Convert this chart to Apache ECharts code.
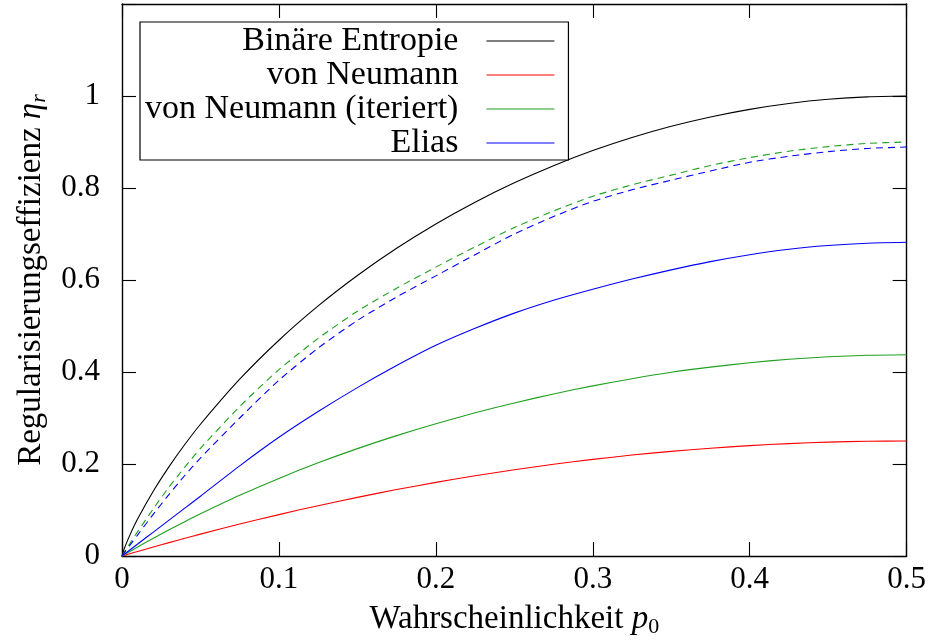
<!DOCTYPE html>
<html><head><meta charset="utf-8">
<script src="https://cdn.jsdelivr.net/npm/echarts@6/dist/echarts.min.js"></script>
<style>html,body{margin:0;padding:0;background:#fff}#c{width:929px;height:643px}</style>
</head><body><div id="c"></div>
<script>
// Probability p0 (shared x grid)
const pValues = [0, 0.001, 0.0025, 0.005, 0.01, 0.02, 0.03, 0.04, 0.05, 0.075, 0.1, 0.125, 0.15, 0.175, 0.2, 0.225, 0.25, 0.275, 0.3, 0.325, 0.35, 0.375, 0.4, 0.425, 0.45, 0.475, 0.5];
// Binäre Entropie (black)
const entropy = [0, 0.0114, 0.0252, 0.0454, 0.0808, 0.1414, 0.1944, 0.2423, 0.2864, 0.3843, 0.4690, 0.5436, 0.6098, 0.6690, 0.7219, 0.7692, 0.8113, 0.8485, 0.8813, 0.9097, 0.9341, 0.9544, 0.9710, 0.9837, 0.9928, 0.9982, 1.0];
// von Neumann (red)
const vonNeumann = [0, 0.001, 0.0025, 0.005, 0.0099, 0.0196, 0.0291, 0.0384, 0.0475, 0.0694, 0.09, 0.1094, 0.1275, 0.1444, 0.16, 0.1744, 0.1875, 0.1994, 0.21, 0.2194, 0.2275, 0.2344, 0.24, 0.2444, 0.2475, 0.2494, 0.25];
// von Neumann iteriert, solid (green)
const iterSolid = [0, 0.002, 0.005, 0.0099, 0.0197, 0.0386, 0.0570, 0.0747, 0.0917, 0.1319, 0.1687, 0.2025, 0.2334, 0.2617, 0.2876, 0.3113, 0.3328, 0.3523, 0.3698, 0.3854, 0.3995, 0.4106, 0.4202, 0.4277, 0.4331, 0.4364, 0.4375];
// von Neumann iteriert, dashed (green)
const iterDashed = [0, 0.0056, 0.0138, 0.027, 0.053, 0.103, 0.150, 0.193, 0.234, 0.325, 0.405, 0.473, 0.532, 0.582, 0.628, 0.672, 0.714, 0.750, 0.782, 0.807, 0.828, 0.849, 0.866, 0.880, 0.890, 0.897, 0.900];
// Elias, solid (blue)
const eliasSolid = [0, 0.0026, 0.0065, 0.013, 0.026, 0.052, 0.078, 0.104, 0.130, 0.196, 0.258, 0.314, 0.366, 0.414, 0.458, 0.495, 0.528, 0.556, 0.580, 0.602, 0.622, 0.640, 0.655, 0.667, 0.675, 0.680, 0.682];
// Elias, dashed (blue)
const eliasDashed = [0, 0.0047, 0.0117, 0.023, 0.046, 0.091, 0.134, 0.175, 0.213, 0.300, 0.382, 0.452, 0.512, 0.563, 0.609, 0.655, 0.700, 0.738, 0.771, 0.796, 0.817, 0.837, 0.856, 0.869, 0.879, 0.886, 0.889];

const legendNames = ['Binäre Entropie', 'von Neumann', 'von Neumann (iteriert)', 'Elias'];
const yTickLabels = {0: '0', 0.2: '0.2', 0.4: '0.4', 0.6: '0.6', 0.8: '0.8', 1: '1'};

const FONT = 'Liberation Serif';
const BLACK = '#000000', RED = '#ff0000', GREEN = '#1fa01f', BLUE = '#0000ff';

function pairs(ys) { return pValues.map((p, i) => [p, ys[i]]); }

function lineSeries(name, ys, color, dashed) {
  return {
    name: name, type: 'line', data: pairs(ys),
    symbol: 'none', showSymbol: false, smooth: 0.25,
    lineStyle: {color: color, width: 1.1, type: dashed ? [7, 5] : 'solid'},
    itemStyle: {color: color},
    emphasis: {disabled: true}, silent: true, clip: true
  };
}

const frameLine = {show: true, onZero: false, lineStyle: {color: BLACK, width: 1.4}};
const tick = {show: true, inside: true, length: 14, lineStyle: {color: BLACK, width: 1.1}};

const chart = echarts.init(document.getElementById('c'));
chart.setOption({
  animation: false,
  backgroundColor: '#ffffff',
  grid: {left: 122, right: 22, top: 4, bottom: 75},
  xAxis: [
    {type: 'value', min: 0, max: 0.5, interval: 0.1, position: 'bottom',
     axisLine: frameLine, axisTick: tick, splitLine: {show: false},
     axisLabel: {color: BLACK, fontFamily: FONT, fontSize: 31, margin: 8},
     name: '{t|Wahrscheinlichkeit }{i|p}{s|0}', nameLocation: 'middle', nameGap: 44,
     nameTextStyle: {color: BLACK, fontFamily: FONT, fontSize: 33,
       rich: {t: {fontFamily: FONT, fontSize: 33, color: BLACK},
              i: {fontFamily: FONT, fontSize: 33, fontStyle: 'italic', color: BLACK},
              s: {fontFamily: FONT, fontSize: 22, color: BLACK, padding: [16, 0, 0, 0]}}}},
    {type: 'value', min: 0, max: 0.5, interval: 0.1, position: 'top',
     axisLine: frameLine, axisTick: tick, splitLine: {show: false}, axisLabel: {show: false}}
  ],
  yAxis: [
    {type: 'value', min: 0, max: 1.2, interval: 0.2, position: 'left',
     axisLine: frameLine, axisTick: tick, splitLine: {show: false},
     axisLabel: {color: BLACK, fontFamily: FONT, fontSize: 31, margin: 22,
       formatter: v => { const k = Math.round(v * 10) / 10; return yTickLabels[k] !== undefined ? yTickLabels[k] : ''; }},
     name: '{t|Regularisierungseffizienz }{g|η}{s|r}', nameLocation: 'middle', nameGap: 72,
     nameTextStyle: {color: BLACK, fontFamily: FONT, fontSize: 33,
       rich: {t: {fontFamily: FONT, fontSize: 33, color: BLACK},
              g: {fontFamily: FONT, fontSize: 33, fontStyle: 'italic', color: BLACK},
              s: {fontFamily: FONT, fontSize: 22, fontStyle: 'italic', color: BLACK, padding: [16, 0, 0, 0]}}}},
    {type: 'value', min: 0, max: 1.2, interval: 0.2, position: 'right',
     axisLine: frameLine, axisTick: tick, splitLine: {show: false}, axisLabel: {show: false}}
  ],
  legend: {
    data: legendNames, orient: 'vertical', align: 'right', icon: 'rect',
    left: 140, top: 22, padding: [2, 14, 0, 5], itemGap: 0,
    itemWidth: 68, itemHeight: 1.2,
    borderColor: BLACK, borderWidth: 1.2, backgroundColor: '#ffffff',
    selectedMode: false,
    textStyle: {color: BLACK, fontFamily: FONT, fontSize: 34, lineHeight: 34, padding: [0, 23, 0, 0]}
  },
  series: [
    lineSeries(legendNames[0], entropy, BLACK, false),
    lineSeries(legendNames[1], vonNeumann, RED, false),
    lineSeries(legendNames[2], iterSolid, GREEN, false),
    lineSeries(legendNames[3], eliasSolid, BLUE, false),
    lineSeries('von Neumann (iteriert, tief)', iterDashed, GREEN, true),
    lineSeries('Elias (groß)', eliasDashed, BLUE, true)
  ]
});
</script></body></html>
